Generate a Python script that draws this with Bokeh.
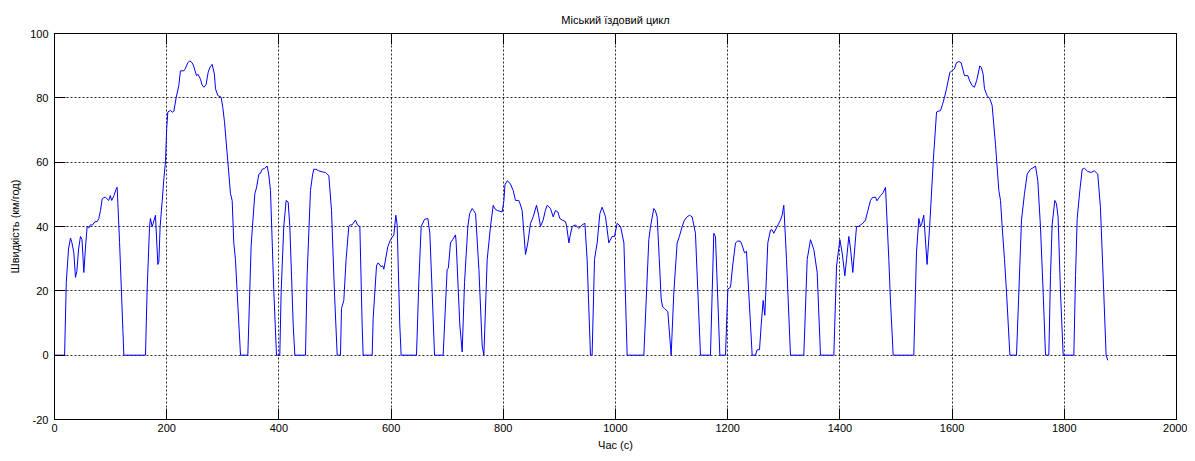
from bokeh.plotting import figure
from bokeh.models import Range1d, LinearAxis, FixedTicker
from bokeh.embed import file_html
from bokeh.resources import INLINE

title_text = "Міський їздовий цикл"
x_label = "Час (с)"
y_label = "Швидкість (км/год)"
x_ticks = [0, 200, 400, 600, 800, 1000, 1200, 1400, 1600, 1800, 2000]
y_ticks = [-20, 0, 20, 40, 60, 80, 100]
y_tick_labels = ["-20", "0", "20", "40", "60", "80", "100"]

time_s = [
    0, 18, 21, 25, 28.5, 31, 34.5, 37.4, 39.8, 43, 46.3, 49, 52.3, 55, 58.2, 61, 64, 68, 72, 76,
    79, 82, 85, 88, 91, 94, 96.8, 99.5, 102, 106, 110, 111.7, 116, 123.6, 162.2, 165, 169.4, 171,
    174, 176, 180, 184.2, 186, 188.3, 192, 195, 197.9, 200, 202, 206.7, 210, 212.7, 217, 221.6,
    224.5, 230.5, 233, 237.6, 241, 245.4, 248, 253.1, 256, 260.2, 263, 266.2, 270, 274, 276.9,
    281, 285, 287, 291.2, 297, 300, 303, 308.9, 313.7, 316.7, 319.6, 322.5, 327, 331.6, 344.6,
    350.5, 352.9, 357.1, 360, 364.3, 367, 370.2, 374, 379.1, 382, 385, 391, 395.7, 401.6, 404,
    408.7, 412.9, 416.5, 419.5, 425.5, 428.4, 447.4, 450.3, 456.3, 460, 462.2, 466, 471.1, 477,
    483, 489, 493.8, 499, 503.9, 509.8, 511.6, 515.7, 519.8, 524.6, 527, 530.5, 536.5, 540,
    544.3, 548.4, 550.2, 566.3, 568, 574, 576, 578.2, 582, 585, 587, 594.2, 599, 604.9, 608.4,
    610.8, 615.5, 617.9, 645.3, 649.4, 653.6, 659.5, 665.5, 669, 673.2, 677.4, 692.8, 699.9,
    702, 705.9, 710, 714.8, 716, 722.5, 726.7, 730.9, 736.8, 740, 744.6, 747, 750.6, 756.5,
    762.4, 765.4, 771.3, 777.2, 782, 785, 789.1, 798, 801, 803, 806.9, 810, 812.8, 817.6, 821.7,
    827.6, 830, 833.6, 839.6, 843.7, 848.5, 853.3, 859.2, 863, 866.3, 871, 875, 878.2, 884.1,
    888.9, 893, 897.2, 900.8, 905, 910.9, 913, 916.9, 919, 922.8, 928.7, 934.7, 940.6, 945.4,
    949.4, 955.4, 958.3, 962.6, 967.3, 972.1, 976.2, 982.2, 988.1, 994, 998.2, 1003, 1009, 1015,
    1020.8, 1050.5, 1059.4, 1062.4, 1068.3, 1071, 1074.3, 1078, 1081.4, 1084, 1087.3, 1093.3,
    1099.2, 1104, 1109.9, 1114, 1118.8, 1123, 1127.7, 1132, 1136.6, 1142.5, 1151.5, 1169.3,
    1175.2, 1178.2, 1186, 1196.1, 1200.3, 1205, 1209, 1213.9, 1218, 1222.8, 1226, 1230, 1233.5,
    1238, 1243.6, 1249.6, 1252.5, 1256.7, 1259.7, 1263.2, 1266.2, 1271.5, 1276.3, 1279, 1282.2,
    1288.2, 1294.1, 1297, 1300, 1304.8, 1311.9, 1335.7, 1341.7, 1347.6, 1353.6, 1359.5, 1365.4,
    1389.2, 1394, 1400, 1404, 1408.8, 1412, 1415.9, 1419, 1423, 1429.6, 1433, 1436.7, 1441,
    1445.6, 1450, 1454.5, 1458, 1463.5, 1466, 1472.4, 1477, 1481.3, 1487.2, 1490, 1495, 1531.7,
    1536.5, 1540.7, 1543.6, 1546, 1549.5, 1555.4, 1560, 1566.4, 1572.3, 1579.4, 1583, 1586.5,
    1590, 1596, 1600, 1604, 1607.8, 1612, 1616.1, 1619, 1622, 1628, 1632, 1635.6, 1639.8, 1644,
    1649.3, 1652, 1655.3, 1657.7, 1662.4, 1667.2, 1671.3, 1677.4, 1683.3, 1686.3, 1689.2,
    1693.4, 1697, 1703, 1714.8, 1719, 1723.7, 1729, 1733.8, 1739.7, 1744, 1748.7, 1752.8,
    1757.5, 1762.3, 1766.5, 1772.4, 1775.4, 1778.3, 1783.1, 1786, 1788.9, 1793.2, 1798, 1817,
    1820, 1823, 1827.7, 1831.9, 1836, 1841.8, 1847.7, 1853.7, 1859.6, 1864.4, 1870.3, 1874.5,
    1877.5,
]

speed_kmh = [
    0, 0, 22.6, 33, 36.4, 35, 31.8, 24.2, 26, 33, 36.9, 36, 25.7, 33, 40, 39.5, 40.5, 40.5, 41.5, 41.5,
    42.5, 45, 48.6, 49, 49.1, 48.5, 48.1, 49.6, 48.1, 49.6, 51.7, 52.2, 35, 0, 0, 19.6, 40, 42.5,
    40, 41, 43.5, 28.2, 29, 40, 48, 55, 60.3, 70.5, 75.6, 76.1, 75.5, 75.8, 80.2, 83.8,
    88.4, 88.4, 89, 90.9, 91.5, 90.9, 89.9, 86.9, 87.3, 85.8, 84, 83.3, 84, 88, 89.4,
    90.4, 87.4, 82.8, 80.7, 80.2, 77, 72.6, 60.3, 50.2, 48.1, 34.9, 29.8, 15, 0, 0,
    33.8, 40, 50.2, 52, 56.3, 56.5, 57.8, 58, 58.8, 56, 51.2, 19.6, 0, 0, 19.6,
    40, 48.1, 47.6, 40, 9.4, 0, 0, 24.7, 51.2, 56, 57.8, 57.8, 57.3, 57,
    56.8, 55.8, 45, 19.6, 0, 0, 14.5, 17, 29.8, 40, 40.5, 40.5, 42, 40.5,
    40, 9.4, 0, 0, 11.4, 27.7, 28.6, 28.5, 27.5, 27.8, 26.7, 33.8, 35.9, 37.4, 43.5,
    40.5, 9.4, 0, 0, 22.6, 40, 42.2, 42.5, 38, 19.6, 0, 0, 26.7,
    27, 34.9, 36, 37.4, 35, 9.4, 1, 22.6, 40, 44, 45.6, 45, 44, 26.7,
    2.8, 0, 29.8, 40, 46.6, 45.5, 45, 44.5, 48, 53, 54.2, 53.8, 53.2, 51.2, 48.1,
    48.1, 47, 45, 31.3, 34.9, 41, 43, 46.6, 43.5, 40, 42, 45, 46.6, 45.6,
    43, 45, 44.5, 42.5, 42, 41.5, 40, 34.9, 37, 40, 40.5, 39.4, 40.5, 41,
    29.8, 0, 0, 29.8, 34.9, 44, 46, 43, 34.9, 36.9, 36.9, 41, 40, 34.9,
    0, 0, 35.9, 40, 45.6, 45, 43, 30, 17.5, 15, 14.5, 13.5,
    0, 19.6, 34.9, 37, 40, 42, 43, 43.5, 43, 37.9, 0, 0,
    37.9, 36.9, 0, 0, 20.6, 21.1, 28, 34.9, 35.5, 35.4, 34, 31.8, 32.3,
    18, 0, 0, 1.7, 1.7, 9.4, 17, 12.4, 34.9, 38.9, 39, 37.9,
    40, 42, 43.5, 46.6, 29.8, 0, 0, 29.8, 35.9, 32.8, 25.7, 0,
    0, 27.7, 35.9, 31.8, 24.7, 30, 36.9, 33, 25.7, 40, 40, 40.5, 41,
    42, 45, 48.1, 49, 49.1, 48, 49.6, 50.5, 52.2, 29.8, 17.5, 0, 0,
    31.8, 42.5, 40, 41, 43.5, 28.2, 40, 60.3, 75.6, 76.1, 78, 80.2,
    82.8, 87.9, 88.4, 89, 90.9, 91.3, 90.9, 89, 86.9, 86.9, 85, 83.8, 83.3, 85.5,
    89.9, 89.5, 87.4, 82.8, 80.7, 79.7, 77.7, 65.4, 51.2, 48.1, 40,
    29.8, 19.6, 0, 0, 19.6, 42, 50.2, 56.3, 57.8, 58.2, 58.8, 54.2,
    40, 19.6, 0, 0, 24.7, 40.5, 48.1, 47.1, 43, 19.6, 0, 0,
    24.7, 42.5, 51.2, 57.8, 58.1, 57.1, 56.8, 57.3, 56.3, 46, 19.6, 0,
    -1.6,
]

FONT = "Liberation Sans"

p = figure(
    width=1187, height=453,
    x_range=Range1d(0, 2000), y_range=Range1d(-20, 100),
    output_backend="svg", toolbar_location=None,
    min_border_left=54, min_border_right=11, min_border_top=33, min_border_bottom=31,
    title=title_text,
)
p.title.align = "center"
p.title.text_font = FONT
p.title.text_font_size = "11px"
p.title.text_font_style = "normal"
p.title.text_color = "black"
p.title.standoff = 16

p.line(time_s, speed_kmh, line_color="#0000FF", line_width=1)

p.outline_line_color = "black"
p.outline_line_width = 1
p.outline_line_alpha = 1

for ax in (p.xaxis[0], p.yaxis[0]):
    ax.axis_line_color = "black"
    ax.major_tick_line_color = "black"
    ax.major_tick_in = 11
    ax.major_tick_out = 0
    ax.minor_tick_line_color = None
    ax.major_label_text_font = FONT
    ax.major_label_text_font_size = "11px"
    ax.major_label_text_color = "black"
    ax.axis_label_text_font = FONT
    ax.axis_label_text_font_size = "11px"
    ax.axis_label_text_font_style = "normal"
    ax.axis_label_text_color = "black"

p.xaxis[0].ticker = FixedTicker(ticks=x_ticks)
p.yaxis[0].ticker = FixedTicker(ticks=y_ticks)
p.yaxis[0].major_label_overrides = {t: s for t, s in zip(y_ticks, y_tick_labels)}
p.xaxis[0].axis_label = x_label
p.yaxis[0].axis_label = y_label
p.xaxis[0].major_label_standoff = 4
p.yaxis[0].major_label_standoff = 6
p.xaxis[0].axis_label_standoff = 4
p.yaxis[0].axis_label_standoff = 6

top_ax = LinearAxis(ticker=FixedTicker(ticks=x_ticks))
right_ax = LinearAxis(ticker=FixedTicker(ticks=y_ticks))
for ax in (top_ax, right_ax):
    ax.major_tick_in = 11
    ax.major_tick_out = 0
    ax.minor_tick_line_color = None
    ax.major_label_text_font_size = "1px"
    ax.major_label_text_color = None
    ax.major_label_standoff = 0
    ax.axis_line_color = "black"
    ax.major_tick_line_color = "black"
p.add_layout(top_ax, "above")
p.add_layout(right_ax, "right")

p.xgrid.ticker = FixedTicker(ticks=x_ticks[1:-1])
p.ygrid.ticker = FixedTicker(ticks=y_ticks[1:-1])
for g in (p.xgrid[0], p.ygrid[0]):
    g.grid_line_color = "black"
    g.grid_line_dash = "2 2"
    g.grid_line_alpha = 0.85
    g.grid_line_width = 1

open("out.html", "w").write(file_html(p, INLINE))
